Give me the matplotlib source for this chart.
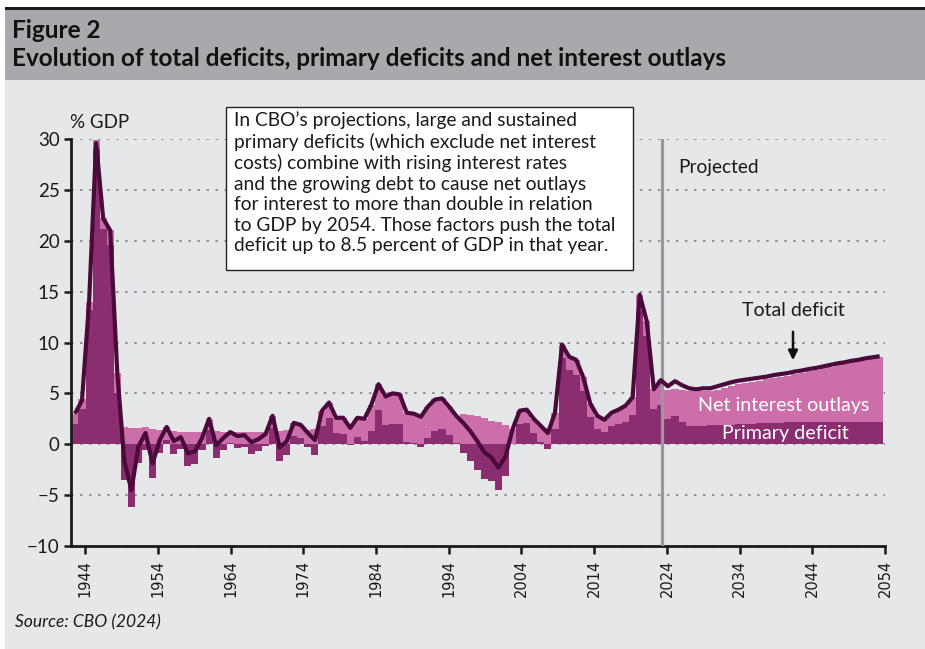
import numpy as np
import matplotlib
matplotlib.use("Agg")
import matplotlib.pyplot as plt
from matplotlib.patches import Rectangle, FancyArrowPatch

# ---------------- data ----------------
years = list(range(1940, 2055))

total_deficit = [
    3.0, 4.3, 13.9, 29.6, 22.2, 21.0, 7.0, -1.7, -4.5, -0.2,          # 1940-49
    1.1, -1.9, 0.4, 1.7, 0.3, 0.7, -0.9, -0.7, 0.6, 2.5,              # 1950-59
    -0.1, 0.6, 1.2, 0.8, 0.9, 0.2, 0.5, 1.0, 2.8, -0.3,               # 1960-69
    0.3, 2.1, 1.9, 1.1, 0.4, 3.3, 4.1, 2.6, 2.6, 1.6,                 # 1970-79
    2.6, 2.5, 3.9, 5.9, 4.7, 5.0, 4.9, 3.1, 3.0, 2.7,                 # 1980-89
    3.7, 4.4, 4.5, 3.7, 2.8, 2.1, 1.3, 0.3, -0.8, -1.3,               # 1990-99
    -2.3, -1.2, 1.5, 3.3, 3.4, 2.5, 1.8, 1.1, 3.1, 9.8,               # 2000-09
    8.6, 8.3, 6.6, 4.0, 2.8, 2.4, 3.1, 3.4, 3.8, 4.6,                 # 2010-19
    14.7, 12.1, 5.4, 6.3, 5.7, 6.2, 5.8, 5.5, 5.4, 5.5,               # 2020-29
    5.5, 5.7, 5.9, 6.1, 6.25, 6.35, 6.45, 6.55, 6.65, 6.8,            # 2030-39
    6.9, 7.0, 7.15, 7.25, 7.4, 7.5, 7.65, 7.8, 7.95, 8.05,            # 2040-49
    8.2, 8.3, 8.45, 8.55, 8.65,                                       # 2050-54
]

primary_deficit = [
    2.0, 3.5, 13.2, 29.0, 21.2, 19.6, 5.0, -3.5, -6.2, -1.8,          # 1940-49
    -0.6, -3.3, -0.9, 0.4, -1.0, -0.5, -2.1, -1.9, -0.6, 1.4,         # 1950-59
    -1.4, -0.6, 0.1, -0.4, -0.3, -1.0, -0.7, -0.2, 1.6, -1.6,         # 1960-69
    -1.1, 0.8, 0.6, -0.3, -1.1, 1.8, 2.6, 1.1, 1.0, -0.1,             # 1970-79
    0.7, 0.3, 1.3, 3.4, 1.9, 2.0, 2.0, 0.2, 0.1, -0.3,                # 1980-89
    0.6, 1.3, 1.5, 0.9, 0.1, -0.9, -1.6, -2.5, -3.4, -3.6,            # 1990-99
    -4.5, -3.1, 0.0, 2.0, 2.1, 1.1, 0.2, -0.5, 1.5, 8.5,              # 2000-09
    7.3, 6.8, 5.2, 2.7, 1.5, 1.2, 1.8, 2.0, 2.2, 2.9,                 # 2010-19
    13.1, 10.6, 3.5, 3.9, 2.5, 2.8, 2.2, 1.8, 1.8, 1.8,               # 2020-29
    1.9, 1.9, 1.9, 1.9, 2.0, 2.0, 2.0, 2.05, 2.1, 2.1,                # 2030-39
    2.1, 2.15, 2.2, 2.2, 2.2, 2.2, 2.2, 2.2, 2.2, 2.2,                # 2040-49
    2.2, 2.2, 2.2, 2.2, 2.2,                                          # 2050-54
]

net_interest = [
    1.0, 0.9, 0.8, 0.9, 1.0, 1.5, 2.0, 1.7, 1.6, 1.6,                 # 1940-49
    1.7, 1.5, 1.4, 1.3, 1.3, 1.2, 1.2, 1.2, 1.2, 1.1,                 # 1950-59
    1.3, 1.2, 1.1, 1.2, 1.2, 1.2, 1.2, 1.2, 1.2, 1.3,                 # 1960-69
    1.4, 1.3, 1.3, 1.4, 1.5, 1.5, 1.5, 1.5, 1.6, 1.7,                 # 1970-79
    1.9, 2.2, 2.6, 2.5, 2.8, 3.0, 2.9, 2.9, 2.9, 3.0,                 # 1980-89
    3.1, 3.1, 3.0, 2.8, 2.7, 3.0, 2.9, 2.8, 2.6, 2.3,                 # 1990-99
    2.2, 1.9, 1.5, 1.3, 1.3, 1.4, 1.6, 1.6, 1.6, 1.3,                 # 2000-09
    1.3, 1.5, 1.4, 1.3, 1.3, 1.2, 1.3, 1.4, 1.6, 1.7,                 # 2010-19
    1.6, 1.5, 1.9, 2.4, 2.8, 2.6, 3.1, 3.4, 3.4, 3.4,                 # 2020-29
    3.3, 3.4, 3.6, 3.8, 3.9, 4.0, 4.1, 4.2, 4.3, 4.4,                 # 2030-39
    4.5, 4.6, 4.75, 4.85, 5.0, 5.1, 5.25, 5.4, 5.55, 5.7,             # 2040-49
    5.85, 5.95, 6.1, 6.25, 6.4,                                       # 2050-54
]

tick_years = [1944, 1954, 1964, 1974, 1984, 1994, 2004, 2014, 2024, 2034, 2044, 2054]
y_ticks = [-10, -5, 0, 5, 10, 15, 20, 25, 30]
projection_start = 2023.1

title_fig = "Figure 2"
title_main = "Evolution of total deficits, primary deficits and net interest outlays"
note_text = ("In CBO\u2019s projections, large and sustained\n"
             "primary deficits (which exclude net interest\n"
             "costs) combine with rising interest rates\n"
             "and the growing debt to cause net outlays\n"
             "for interest to more than double in relation\n"
             "to GDP by 2054. Those factors push the total\n"
             "deficit up to 8.5 percent of GDP in that year.")

# ---------------- style ----------------
W, H = 925, 649
DARK = "#8B2E6F"
LIGHT = "#CC6EAA"
LINE = "#4A0B3B"
BODY = "#E6E7E8"
HEAD = "#A7A9AC"
FONT = ["Lato", "DejaVu Sans"]

def fx(x):
    return x / W

def fy(y):
    return 1 - y / H

fig = plt.figure(figsize=(W / 100, H / 100), dpi=100)
fig.patch.set_facecolor("white")

# background panels
fig.add_artist(Rectangle((fx(5), 0), fx(W - 5), (H - 80) / H,
                         transform=fig.transFigure, facecolor=BODY, edgecolor="none", zorder=0))
fig.add_artist(Rectangle((fx(5), fy(80)), fx(W - 5), (80 - 9) / H,
                         transform=fig.transFigure, facecolor=HEAD, edgecolor="none", zorder=0))
fig.add_artist(Rectangle((fx(5), fy(9.5)), fx(W - 5), 3 / H,
                         transform=fig.transFigure, facecolor="#1a1a1a", edgecolor="none", zorder=0))

fig.text(fx(12), fy(38), title_fig, fontsize=17.5, fontweight="bold", family=FONT,
         color="#111111", va="baseline", ha="left")
fig.text(fx(12), fy(66), title_main, fontsize=17.5, fontweight="bold", family=FONT,
         color="#111111", va="baseline", ha="left")

# ---------------- axes ----------------
ax = fig.add_axes([fx(70.7), fy(546), (885 - 70.7) / W, (546 - 139) / H])
ax.set_facecolor("none")

prim = np.array(primary_deficit)
ni = np.array(net_interest)
ax.bar(years, prim, width=1.0, color=DARK, linewidth=0, zorder=2)
ax.bar(years, ni, bottom=np.clip(prim, 0, None), width=1.0, color=LIGHT, linewidth=0, zorder=2)
ax.axvline(projection_start, color="#999999", lw=2.3, zorder=3)
ax.plot(years, total_deficit, color=LINE, lw=3.0, solid_joinstyle="round",
        solid_capstyle="butt", zorder=4)

ax.set_xlim(1939.4, 2054.75)
ax.set_ylim(-10, 30)
ax.set_xticks([])
ax.set_yticks(y_ticks)
ax.set_yticklabels([str(v).replace("-", "\u2212") for v in y_ticks], family=FONT)
ax.tick_params(axis="y", length=5, width=1.8, labelsize=13.5, pad=3, colors="#1a1a1a")
ax.yaxis.grid(True, color="#8a8a8a", lw=1.3, ls=(0, (1.4, 3.6)), zorder=1)
ax.set_axisbelow(True)
for s in ["top", "right"]:
    ax.spines[s].set_visible(False)
for s in ["left", "bottom"]:
    ax.spines[s].set_linewidth(2.0)
    ax.spines[s].set_color("#1a1a1a")

ax2 = ax.twiny()
ax2.set_xlim(1942, 2054)
ax2.xaxis.set_ticks_position("bottom")
ax2.xaxis.set_label_position("bottom")
for s in ax2.spines.values():
    s.set_visible(False)
ax2.set_xticks(tick_years)
ax2.set_xticklabels([str(t) for t in tick_years], rotation=90, family="DejaVu Sans",
                    fontsize=10.5, color="#222222")
ax2.tick_params(axis="x", length=6, width=1.8, pad=4, colors="#1a1a1a")

# ---------------- annotations ----------------
fig.text(fx(70), fy(123), "% GDP", fontsize=13.5, family=FONT, va="center", ha="left",
         color="#1a1a1a")
fig.add_artist(Rectangle((fx(226), fy(270)), (633 - 226) / W, (270 - 107) / H,
                         transform=fig.transFigure, facecolor="white", edgecolor="#222222",
                         lw=1.0, zorder=5))
fig.text(fx(234), fy(111), note_text, fontsize=13.8, family=FONT, va="top", ha="left",
         linespacing=1.25, color="#1a1a1a", zorder=6)

fig.text(fx(678), fy(167), "Projected", fontsize=13.8, family=FONT, va="center", ha="left",
         color="#1a1a1a")
fig.text(fx(793), fy(311), "Total deficit", fontsize=14, family=FONT, va="center",
         ha="center", color="#1a1a1a")
fig.add_artist(FancyArrowPatch((fx(793), fy(329)), (fx(793), fy(363)),
                               transform=fig.transFigure, arrowstyle="-|>",
                               mutation_scale=14, color="#111111", lw=1.8, zorder=6))
fig.text(fx(784), fy(405), "Net interest outlays", fontsize=14.2, family=FONT,
         va="center", ha="center", color="white", zorder=6)
fig.text(fx(785), fy(433), "Primary deficit", fontsize=14.2, family=FONT,
         va="center", ha="center", color="white", zorder=6)

fig.text(fx(15), fy(622), "Source: CBO (2024)", fontsize=12.5, family=FONT,
         style="italic", va="center", ha="left", color="#1a1a1a")

fig.savefig("out.png", dpi=100)
